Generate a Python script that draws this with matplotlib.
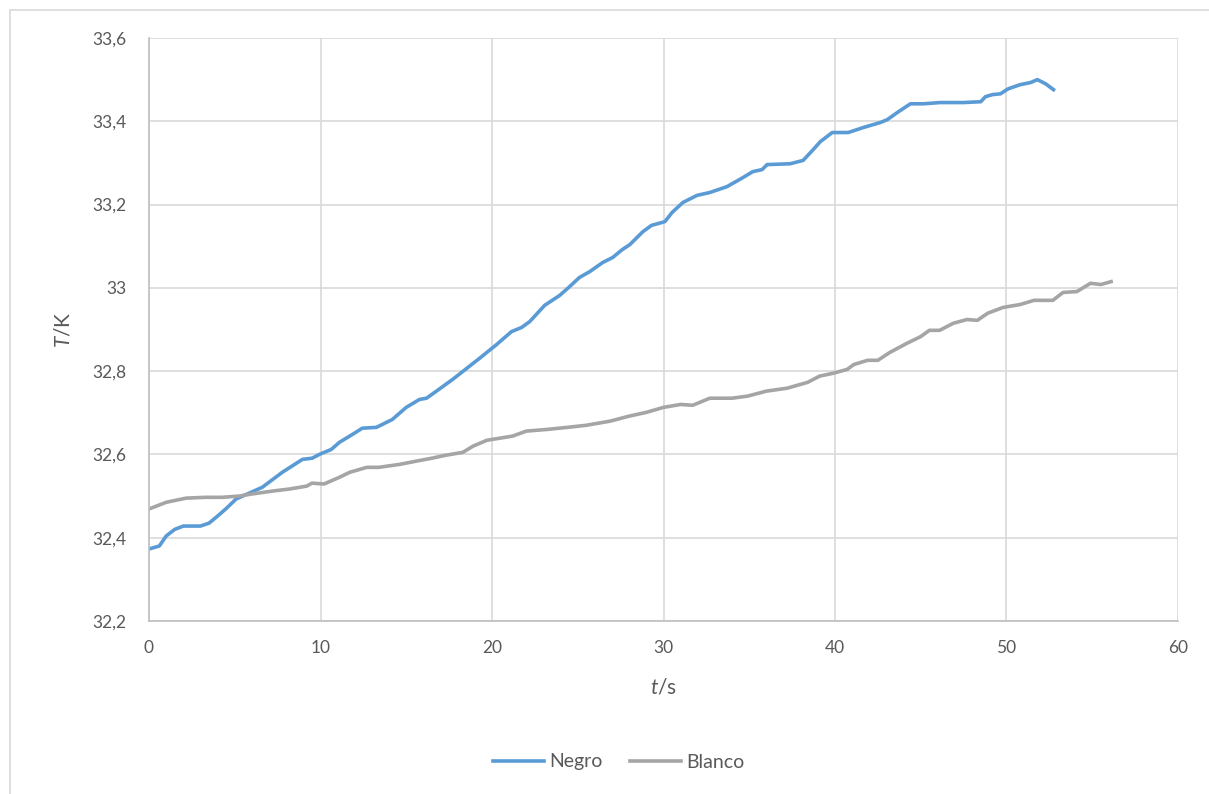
import matplotlib
matplotlib.use('Agg')
import matplotlib.pyplot as plt
from matplotlib.patches import Rectangle

# --- Data ---
negro_t = [0, 0.6, 1.0, 1.5, 2.0, 3.0, 3.5, 4.0, 4.5, 5.08, 6.6, 7.77, 8.94, 9.52, 9.93,
           10.63, 11.1, 11.86, 12.44, 13.26, 14.19, 15.0, 15.77, 16.18, 16.76, 17.7,
           19.28, 20.27, 21.14, 21.73, 22.2, 23.07, 23.95, 24.42, 25.1, 25.7, 26.46,
           27.04, 27.6, 28.04, 28.8, 29.3, 30.08, 30.5, 31.13, 31.95, 32.7, 33.7,
           34.64, 35.2, 35.75, 36.04, 37.38, 38.14, 38.73, 39.14, 39.84, 40.77, 41.65,
           42.64, 43.05, 43.7, 44.4, 45.15, 46.14, 47.5, 48.5, 48.77, 49.18, 49.65,
           50.1, 50.8, 51.4, 51.8, 52.28, 52.74]
negro_T = [32.373, 32.38, 32.404, 32.42, 32.428, 32.428, 32.435, 32.452, 32.47, 32.493,
           32.521, 32.557, 32.588, 32.591, 32.600, 32.612, 32.629, 32.648, 32.663,
           32.665, 32.684, 32.713, 32.732, 32.735, 32.752, 32.780, 32.831, 32.864,
           32.895, 32.905, 32.919, 32.958, 32.982, 32.999, 33.025, 33.039, 33.061,
           33.073, 33.092, 33.104, 33.135, 33.150, 33.159, 33.181, 33.205, 33.222,
           33.229, 33.243, 33.265, 33.279, 33.284, 33.296, 33.298, 33.306, 33.332,
           33.351, 33.373, 33.373, 33.385, 33.397, 33.404, 33.423, 33.442, 33.442,
           33.445, 33.445, 33.447, 33.459, 33.464, 33.466, 33.478, 33.488, 33.493,
           33.500, 33.490, 33.476]

blanco_t = [0, 1.0, 2.16, 3.3, 4.26, 5.26, 6.0, 7.2, 8.2, 9.2, 9.5, 10.2, 11.1, 11.7,
            12.7, 13.4, 14.6, 15.6, 16.5, 17.3, 18.3, 18.9, 19.7, 20.0, 21.2, 22.0,
            23.2, 24.4, 25.5, 26.9, 28.0, 29.0, 30.0, 31.0, 31.7, 32.7, 34.0, 34.9,
            36.0, 37.2, 38.4, 39.1, 39.9, 40.7, 41.1, 41.9, 42.5, 43.2, 44.2, 45.0,
            45.5, 46.1, 46.9, 47.7, 48.3, 48.9, 49.8, 50.8, 51.6, 52.7, 53.3, 54.1,
            54.9, 55.5, 56.1]
blanco_T = [32.469, 32.485, 32.495, 32.497, 32.497, 32.500, 32.505, 32.512, 32.517,
            32.524, 32.531, 32.529, 32.545, 32.557, 32.569, 32.569, 32.576, 32.584,
            32.591, 32.598, 32.605, 32.620, 32.634, 32.636, 32.644, 32.656, 32.660,
            32.665, 32.670, 32.680, 32.692, 32.701, 32.713, 32.720, 32.718, 32.735,
            32.735, 32.740, 32.752, 32.759, 32.773, 32.788, 32.795, 32.804, 32.816,
            32.826, 32.826, 32.845, 32.867, 32.883, 32.898, 32.898, 32.915, 32.924,
            32.922, 32.939, 32.953, 32.960, 32.970, 32.970, 32.989, 32.991, 33.011,
            33.008, 33.015]

x_ticks = [0, 10, 20, 30, 40, 50, 60]
y_ticks = [32.2, 32.4, 32.6, 32.8, 33.0, 33.2, 33.4, 33.6]
y_labels = ['32,2', '32,4', '32,6', '32,8', '33', '33,2', '33,4', '33,6']

# --- Style ---
plt.rcParams['font.family'] = ['Lato', 'DejaVu Sans']
plt.rcParams['mathtext.fontset'] = 'custom'
plt.rcParams['mathtext.rm'] = 'Lato'
plt.rcParams['mathtext.it'] = 'Lato:italic'

TEXT = '#595959'
GRID = '#D9D9D9'

fig = plt.figure(figsize=(12.09, 7.94), dpi=100)
ax = fig.add_axes([149 / 1209, 1 - 621 / 794, (1178 - 149) / 1209, (621 - 38) / 794])

# chart area border (only top and left visible in the picture)
fig.patches.append(Rectangle((10 / 1209, -0.1), 1.2, 1 - 10 / 794 + 0.1,
                             transform=fig.transFigure, fill=False,
                             edgecolor=GRID, linewidth=1.2))

ax.plot(negro_t, negro_T, color='#5B9BD5', linewidth=2.6, label='Negro')
ax.plot(blanco_t, blanco_T, color='#A5A5A5', linewidth=2.6, label='Blanco')

ax.set_xlim(0, 60)
ax.set_ylim(32.2, 33.6)
ax.set_xticks(x_ticks)
ax.set_yticks(y_ticks)
ax.set_yticklabels(y_labels)
ax.grid(True, color=GRID, linewidth=1.2)
ax.set_axisbelow(True)
for s in ['top', 'right']:
    ax.spines[s].set_visible(False)
for s in ['left', 'bottom']:
    ax.spines[s].set_color('#BFBFBF')
    ax.spines[s].set_linewidth(1.2)
ax.tick_params(length=0, labelsize=12.5, colors=TEXT)
ax.tick_params(axis='y', pad=16)
ax.tick_params(axis='x', pad=14)

ax.set_xlabel(r'$\mathit{t}$/s', fontsize=15, color=TEXT, labelpad=15)
ax.set_ylabel(r'$\mathit{T}$/K', fontsize=15, color=TEXT, labelpad=14)

fig.legend(loc='center', bbox_to_anchor=(619 / 1209, 1 - 762 / 794), ncol=2, frameon=False,
           fontsize=14, labelcolor=TEXT, handlelength=2.6, columnspacing=1.4,
           handletextpad=0.3)

fig.savefig('out.png', dpi=100)
